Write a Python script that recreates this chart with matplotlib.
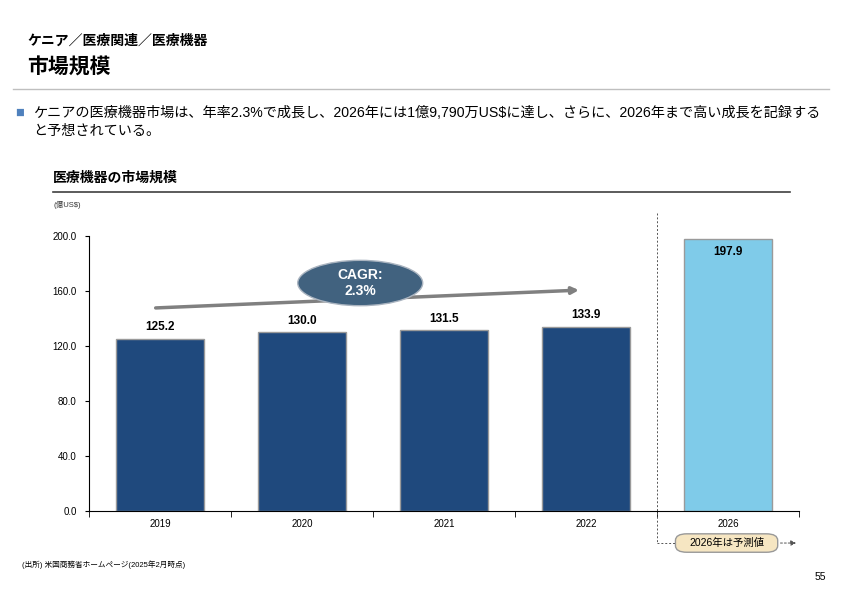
import matplotlib
matplotlib.use('Agg')
import matplotlib.pyplot as plt
from matplotlib.patches import Ellipse, FancyBboxPatch
import numpy as np

plt.rcParams['font.family'] = ['Liberation Sans', 'Noto Sans CJK JP']

# data
years = ['2019', '2020', '2021', '2022', '2026']
values = [125.2, 130.0, 131.5, 133.9, 197.9]
yticks = [0, 40, 80, 120, 160, 200]

fig = plt.figure(figsize=(8.42, 5.95), dpi=100)

# header texts (figure pixel coords -> fractions)
def fx(px):
    return px / 842.0

def fy(py):
    return 1 - py / 595.0

fig.text(fx(27), fy(41), 'ケニア／医療関連／医療機器', fontsize=10, fontweight='bold', va='center')
fig.text(fx(27), fy(68), '市場規模', fontsize=15, fontweight='bold', va='center')
fig.add_artist(plt.Line2D([fx(13), fx(829)], [fy(89), fy(89)], color='#BFBFBF', lw=1))
fig.text(fx(15), fy(113), '■', fontsize=10.5, color='#4F81BD', va='center')
fig.text(fx(33), fy(113), 'ケニアの医療機器市場は、年率2.3%で成長し、2026年には1億9,790万US$に達し、さらに、2026年まで高い成長を記録する',
         fontsize=10.2, va='center')
fig.text(fx(33), fy(131), 'と予想されている。', fontsize=10.2, va='center')

fig.text(fx(53), fy(178), '医療機器の市場規模', fontsize=10, fontweight='bold', va='center')
fig.add_artist(plt.Line2D([fx(53), fx(790)], [fy(192), fy(192)], color='#404040', lw=1.2))
fig.text(fx(53), fy(205), '(億US$)', fontsize=5.5, va='center', color='#333333')

fig.text(fx(22), fy(565), '(出所) 米国商務省ホームページ(2025年2月時点)', fontsize=5.5, va='center')
fig.text(fx(826), fy(577), '55', fontsize=7.5, va='center', ha='right')

# chart axes
ax = fig.add_axes([fx(89), fy(511), fx(799) - fx(89), (511 - 236) / 595.0])
x = np.arange(len(years))
cols = ['#1F497D'] * 4 + ['#7FCBE9']
ax.bar(x, values, width=0.62, color=cols, edgecolor='#9A9A9A', linewidth=1)

for i in range(len(values)):
    if i < 4:
        ax.text(x[i], values[i] + 4, '%.1f' % values[i], ha='center', va='bottom',
                fontsize=8.5, fontweight='bold')
    else:
        ax.text(x[i], values[i] - 5, '%.1f' % values[i], ha='center', va='top',
                fontsize=8.5, fontweight='bold')

ax.set_xlim(-0.5, 4.5)
ax.set_ylim(0, 200)
ax.set_yticks(yticks)
ax.set_yticklabels(['%.1f' % v for v in yticks], fontsize=7)
ax.set_xticks(x)
ax.set_xticklabels(years, fontsize=7)
ax.set_xticks(np.arange(-0.5, 5, 1), minor=True)
ax.tick_params(axis='x', which='major', length=0, pad=6)
ax.tick_params(axis='x', which='minor', length=4, direction='out')
ax.tick_params(axis='y', length=3, direction='out', pad=6)
for s in ['top', 'right']:
    ax.spines[s].set_visible(False)

# CAGR arrow and ellipse
ax.annotate('', xy=(2.97, 160.7), xytext=(-0.05, 147.6),
            arrowprops=dict(arrowstyle='-|>', color='#808080', lw=2.5, mutation_scale=10))
ax.add_patch(Ellipse((1.41, 165.8), 0.88, 33, facecolor='#41627F', edgecolor='#AAB4C0', lw=1, zorder=5))
ax.text(1.41, 165.8, 'CAGR:\n2.3%', ha='center', va='center', color='white',
        fontsize=10, fontweight='bold', zorder=6, linespacing=1.2)

# forecast separator and label
ax.plot([3.5, 3.5], [217, -23.3], color='#555555', lw=0.7, ls=(0, (2, 2)), clip_on=False)
ax.plot([3.5, 3.63], [-23.3, -23.3], color='#555555', lw=0.7, ls=(0, (2, 2)), clip_on=False)
box = FancyBboxPatch((3.63, -30), 0.72, 13.4, boxstyle='round,pad=0,rounding_size=0.08',
                     mutation_aspect=60, facecolor='#F6E6C2', edgecolor='#999999', lw=1, clip_on=False)
ax.add_patch(box)
ax.text(3.99, -23.3, '2026年は予測値', ha='center', va='center', fontsize=7.5, clip_on=False)
ax.annotate('', xy=(4.5, -23.3), xytext=(4.35, -23.3), annotation_clip=False,
            arrowprops=dict(arrowstyle='-|>', color='#555555', lw=0.7, ls=(0, (2, 2)), mutation_scale=8))

fig.savefig('out.png', dpi=100)
